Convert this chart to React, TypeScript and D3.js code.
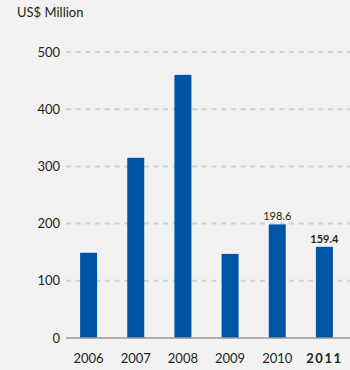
import React from "react";
import * as d3 from "d3";

const years = ["2006", "2007", "2008", "2009", "2010", "2011"];
const values = [149, 315, 460, 147, 198.6, 159.4];
const labels = ["", "", "", "", "198.6", "159.4"];
const yTicks = [0, 100, 200, 300, 400, 500];

const W = 350, H = 370;
const FONT = "Lato, 'Open Sans', sans-serif";

export default function App() {
  const x = d3.scaleBand<string>().domain(years).range([65, 348]).paddingInner(0.64).paddingOuter(0.32);
  const y = d3.scaleLinear().domain([0, 500]).range([338, 52]);
  return (
    <svg width={W} height={H} style={{ position: "absolute", left: 0, top: 0, background: "#f2f2f2" }}>
      <rect x={0} y={0} width={W} height={H} fill="#f2f2f2" />
      <text x={17} y={17} fontFamily={FONT} fontSize={13} fill="#231f20">US$ Million</text>
      {yTicks.map((t) => (
        <g key={t}>
          {t > 0 && (
            <line x1={66} x2={350} y1={y(t)} y2={y(t)} stroke="#d2d2d2" strokeWidth={2} strokeDasharray="5,4.7" />
          )}
          <text x={60} y={y(t)} dy="0.35em" textAnchor="end" fontFamily={FONT} fontSize={13} fill="#231f20">{t}</text>
        </g>
      ))}
      {years.map((yr, i) => (
        <rect key={yr} x={x(yr)} y={y(values[i])} width={x.bandwidth()} height={y(0) - y(values[i])} fill="#0054a6" />
      ))}
      <line x1={66} x2={350} y1={y(0)} y2={y(0)} stroke="#999" strokeWidth={1.5} />
      {years.map((yr, i) => (
        <text key={yr} x={(x(yr) as number) + x.bandwidth() / 2} y={363} textAnchor="middle" fontFamily={FONT}
          fontSize={13} fontWeight={i === years.length - 1 ? 700 : 400} fill="#231f20"
          letterSpacing={i === years.length - 1 ? 1.5 : 0}>{yr}</text>
      ))}
      {years.map((yr, i) => labels[i] ? (
        <text key={"l" + yr} x={(x(yr) as number) + x.bandwidth() / 2} y={y(values[i]) - 4} textAnchor="middle"
          fontFamily={FONT} fontSize={11} fontWeight={i === years.length - 1 ? 700 : 400} fill="#231f20">{labels[i]}</text>
      ) : null)}
    </svg>
  );
}
